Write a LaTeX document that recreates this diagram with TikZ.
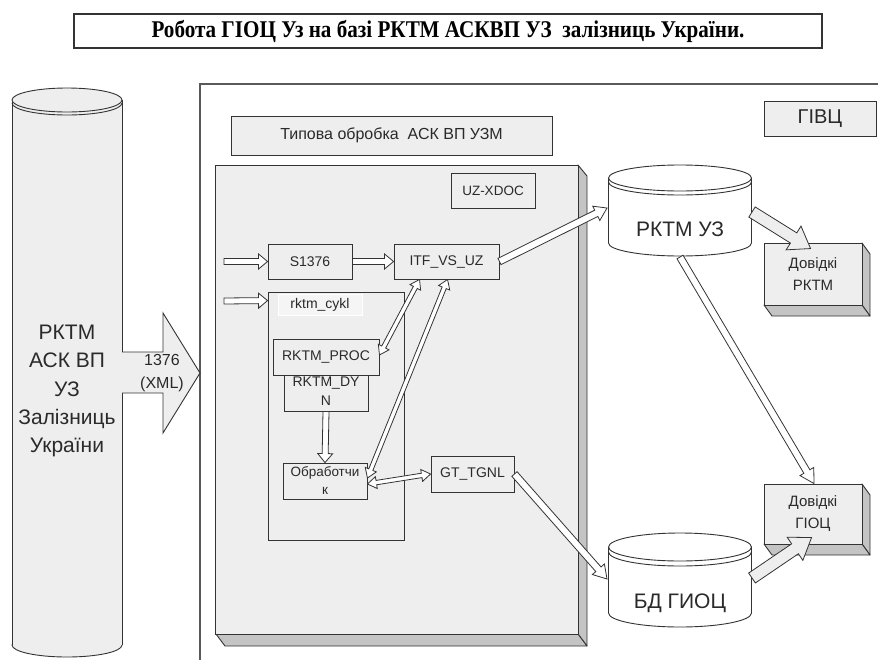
\documentclass[tikz,border=0pt]{standalone}
\usepackage{fontspec}
\setmainfont{Liberation Serif}
\newfontfamily\arial{Liberation Sans}
\usetikzlibrary{calc}
\definecolor{panel}{HTML}{EEEEEE}
\definecolor{sidegray}{HTML}{C4C4C4}
\definecolor{ln}{HTML}{333333}
\definecolor{txt}{HTML}{2A2A2A}
\newcommand\fs[2]{\fontsize{#1}{#2}\selectfont}
% single-headed block arrow: [opts]{from}{to}{shaft half}{head half}{head len} (numbers in pt)
\newcommand\barrow[6][]{%
  \coordinate (ba-A) at (#2); \coordinate (ba-B) at (#3);
  \coordinate (ba-H) at ($(ba-B)!#6pt!(ba-A)$);
  \draw[hollow,#1] ($(ba-A)!#4pt!90:(ba-B)$) -- ($(ba-H)!#4pt!90:(ba-B)$) -- ($(ba-H)!#5pt!90:(ba-B)$) -- (ba-B)
    -- ($(ba-H)!#5pt!-90:(ba-B)$) -- ($(ba-H)!#4pt!-90:(ba-B)$) -- ($(ba-A)!#4pt!-90:(ba-B)$) -- cycle;}
% double-headed block arrow
\newcommand\dbarrow[6][]{%
  \coordinate (ba-A) at (#2); \coordinate (ba-B) at (#3);
  \coordinate (ba-HA) at ($(ba-A)!#6pt!(ba-B)$);
  \coordinate (ba-HB) at ($(ba-B)!#6pt!(ba-A)$);
  \draw[hollow,#1] (ba-A) -- ($(ba-HA)!#5pt!90:(ba-B)$) -- ($(ba-HA)!#4pt!90:(ba-B)$) -- ($(ba-HB)!#4pt!90:(ba-B)$)
    -- ($(ba-HB)!#5pt!90:(ba-B)$) -- (ba-B) -- ($(ba-HB)!#5pt!-90:(ba-B)$) -- ($(ba-HB)!#4pt!-90:(ba-B)$)
    -- ($(ba-HA)!#4pt!-90:(ba-B)$) -- ($(ba-HA)!#5pt!-90:(ba-B)$) -- cycle;}
% cylinder: {cx}{ytop}{ybottom}{rx}{ry}{fill}{rim offset}
\newcommand\mycyl[7]{%
  \filldraw[fill=#6, draw=ln, line width=0.9pt] (#1,#3) ellipse [x radius=#4, y radius=#5];
  \fill[#6] ({#1-#4},#2) rectangle ({#1+#4},#3);
  \draw[ln, line width=0.9pt] ({#1-#4},#2) -- ({#1-#4},#3) ({#1+#4},#2) -- ({#1+#4},#3);
  \filldraw[fill=#6, draw=ln, line width=0.9pt] (#1,#2) ellipse [x radius=#4, y radius=#5];
  \begin{scope}
    \clip ({#1-#4-2},{#2+#7}) rectangle ({#1+#4+2},{#2+#7+#5+3});
    \draw[ln, line width=0.9pt] (#1,{#2+#7}) ellipse [x radius=#4, y radius=#5];
  \end{scope}}
\tikzset{
  box/.style={draw=ln, line width=0.9pt, fill=panel, inner sep=0pt, text=txt, align=center, font=\arial\fs{14}{17}},
  hollow/.style={draw=ln, line width=0.8pt, fill=white, line join=miter},
  fat/.style={fill=panel},
  face/.style={draw=ln, line width=0.9pt, fill=sidegray, line join=round},
}
\begin{document}
\begin{tikzpicture}[x=1pt,y=-1pt]
\useasboundingbox[fill=white] (0,0) rectangle (878,659);

% title
\node[draw=ln, line width=1.2pt, fill=white, minimum width=748pt, minimum height=34pt, inner sep=0pt]
  (title) at (448,31) {\scalebox{0.88}[1]{\fs{24}{26}\bfseries Робота ГІОЦ Уз на базі РКТМ АСКВП УЗ\ \ залізниць України.}};

% outer frame (GIVC)
\draw[draw=black!65, line width=1.4pt] (200,662) -- (200,84) -- (880,84);
\node[box, font=\arial\fs{20}{24}, minimum width=112pt, minimum height=35pt] (givc) at (820,118.5) {ГІВЦ};
\node[box, font=\arial\fs{16}{18}, minimum width=321pt, minimum height=39pt] (typ) at (391.5,135.5) {Типова обробка\ \ АСК ВП УЗМ};

% left cylinder
\mycyl{67}{100}{645}{55}{12}{panel}{3}
\node[font=\arial\fs{21}{28.2}, align=center, text=txt] (asu) at (67,391) {РКТМ\\АСК ВП\\УЗ\\Залізниць\\України};

% big arrow 1376 (XML)
\draw[draw=ln, line width=0.9pt, fill=panel, line join=miter] (122,352) -- (163,352) -- (163,313) -- (200,373)
  -- (163,433) -- (163,393) -- (122,393);
\node[font=\arial\fs{16}{23}, align=center, text=txt] (xml) at (162,373.5) {1376\\(XML)};

% 3D panel UZ-XDOC
\draw[face] (578,165) -- (587,176) -- (587,646) -- (578,634) -- cycle;
\draw[face] (216,634) -- (578,634) -- (587,646) -- (225,646) -- cycle;
\node[box, minimum width=363pt, minimum height=469pt] (panelbox) at (396.5,399.5) {};
\node[box, font=\arial\fs{13.5}{16}, minimum width=84pt, minimum height=35pt] (uzx) at (493,190.5) {UZ-XDOC};

\node[box, minimum width=84pt, minimum height=35pt] (s1376) at (310,261.5) {S1376};
\node[box, minimum width=105pt, minimum height=35pt] (itf) at (446.5,261.5) {ITF\_VS\_UZ};

\node[box, minimum width=136pt, minimum height=248pt] (cykl) at (336,416) {};
\node[draw=white, line width=0.9pt, fill=white!40!panel, inner sep=0pt, minimum width=84pt, minimum height=21pt,
  font=\arial\fs{14}{17}, text=txt] (cykll) at (320,304.5) {rktm\_cykl};

\node[box, minimum width=84pt, minimum height=39pt, font=\arial\fs{14}{19}] (dyn) at (326,391.5) {RKTM\_DY\\N};
\node[box, minimum width=106pt, minimum height=36pt] (proc) at (326,357) {RKTM\_PROC};
\node[box, minimum width=84pt, minimum height=36pt, font=\arial\fs{13.5}{18}] (obr) at (325,481) {Обработчи\\к};
\node[box, minimum width=83pt, minimum height=36pt] (gt) at (472.5,474) {GT\_TGNL};

% right cylinders
\mycyl{680}{178}{243}{71.5}{13}{white}{4}
\node[font=\arial\fs{21}{24}, text=txt] (rktmuz) at (680,229) {РКТМ УЗ};
\mycyl{680}{547}{613}{71.5}{14}{white}{5}
\node[font=\arial\fs{21}{24}, text=txt] (bdgioc) at (680,603) {БД ГИОЦ};
\coordinate (rktmuz-w) at (607,208);
\coordinate (rktmuz-e) at (752,212);
\coordinate (rktmuz-s) at (680,257);
\coordinate (bdgioc-w) at (607,579);
\coordinate (bdgioc-e) at (752,578);

% 3D reference boxes
\draw[face] (862,243) -- (870,254) -- (870,316) -- (862,305) -- cycle;
\draw[face] (764,305) -- (862,305) -- (870,316) -- (772,316) -- cycle;
\node[box, minimum width=98pt, minimum height=62pt, font=\arial\fs{15}{22}] (dovr) at (813,274) {Довідкі\\РКТМ};
\draw[face] (862,484) -- (870,495) -- (870,555) -- (862,544) -- cycle;
\draw[face] (764,544) -- (862,544) -- (870,555) -- (772,555) -- cycle;
\node[box, minimum width=98pt, minimum height=60pt, font=\arial\fs{15}{22}] (dovg) at (813,514) {Довідкі\\ГІОЦ};

% connectors
\coordinate (in1) at (224,261.5);
\coordinate (in2) at (224,301);
\barrow{in1}{s1376.west}{3}{7.5}{9}
\barrow{in2}{$(cykl.north west)+(0,9)$}{3}{7.5}{9}
\barrow{s1376.east}{itf.west}{3}{7.5}{9}
\barrow{itf.east}{rktmuz-w}{3.5}{8}{12}
\dbarrow{$(itf.south west)+(26,0)$}{$(proc.east)+(0,-2)$}{2.2}{6}{9}
\dbarrow{$(itf.south west)+(54,0)$}{$(obr.east)+(0,-3)$}{2.2}{6}{9}
\barrow{dyn.south}{obr.north}{3}{7.5}{9}
\dbarrow{$(obr.east)+(0,3)$}{gt.west}{2.2}{6}{9}
\barrow{gt.east}{bdgioc-w}{3.5}{8}{13}
\barrow{rktmuz-s}{$(dovg.north)+(1,0)$}{3.5}{8}{14}
\barrow[fat]{rktmuz-e}{$(dovr.north west)+(47,6)$}{6}{14}{20}
\barrow[fat]{bdgioc-e}{$(dovg.north west)+(48,54)$}{6}{14}{20}
\end{tikzpicture}
\end{document}
